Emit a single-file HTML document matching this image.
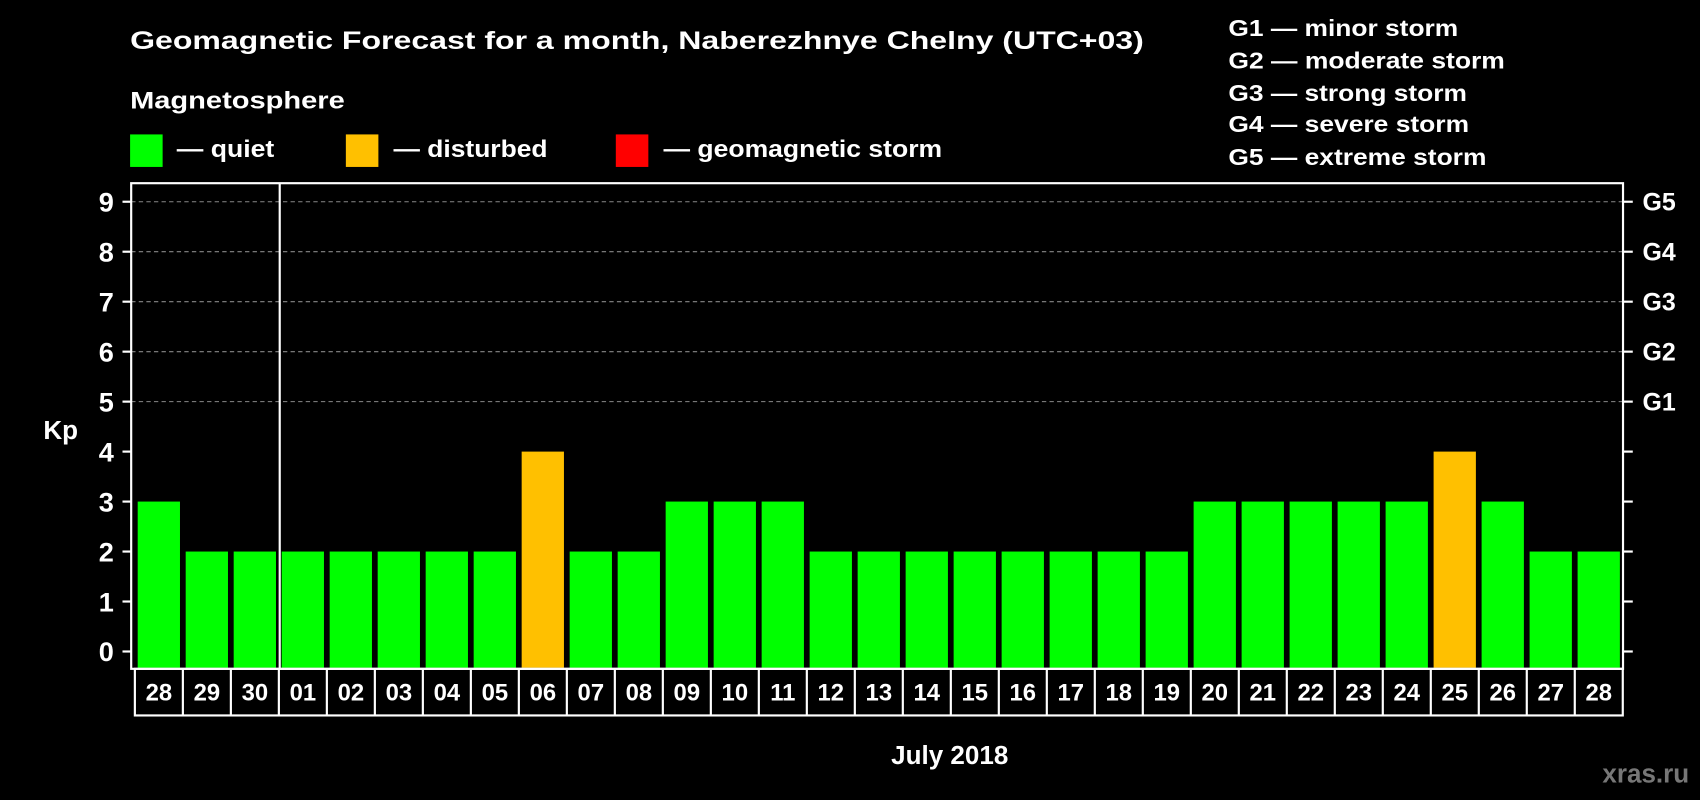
<!DOCTYPE html>
<html><head><meta charset="utf-8"><style>
html,body{margin:0;padding:0;background:#000;}
svg{display:block;font-family:"Liberation Sans",Arial,sans-serif;font-weight:bold;}
</style></head><body>
<svg id="chart" width="1700" height="800" viewBox="0 0 1568 738" preserveAspectRatio="none" xmlns="http://www.w3.org/2000/svg">
<rect x="0" y="0" width="1568" height="738" fill="#000"/>
<text x="120" y="45" font-size="23" fill="#fff" textLength="935" lengthAdjust="spacingAndGlyphs">Geomagnetic Forecast for a month, Naberezhnye Chelny (UTC+03)</text>
<text x="120" y="100" font-size="22" fill="#fff" textLength="198" lengthAdjust="spacingAndGlyphs">Magnetosphere</text>
<g>
<rect x="120" y="124" width="30" height="30" fill="#00ff00"/>
<text x="163" y="145" font-size="22" fill="#fff" textLength="90" lengthAdjust="spacingAndGlyphs">— quiet</text></g>
<g>
<rect x="319" y="124" width="30" height="30" fill="#ffc000"/>
<text x="363" y="145" font-size="22" fill="#fff" textLength="142" lengthAdjust="spacingAndGlyphs">— disturbed</text></g>
<g>
<rect x="568" y="124" width="30" height="30" fill="#ff0000"/>
<text x="612" y="145" font-size="22" fill="#fff" textLength="257" lengthAdjust="spacingAndGlyphs">— geomagnetic storm</text></g>
<g font-size="21" fill="#fff">
<text x="1133" y="33" textLength="212" lengthAdjust="spacingAndGlyphs">G1 — minor storm</text>
<text x="1133" y="63" textLength="255" lengthAdjust="spacingAndGlyphs">G2 — moderate storm</text>
<text x="1133" y="93" textLength="220" lengthAdjust="spacingAndGlyphs">G3 — strong storm</text>
<text x="1133" y="122" textLength="222" lengthAdjust="spacingAndGlyphs">G4 — severe storm</text>
<text x="1133" y="152" textLength="238" lengthAdjust="spacingAndGlyphs">G5 — extreme storm</text>
</g>
<g id="grid"></g>
<g id="bars"></g>
<rect x="121" y="169" width="1376" height="448" fill="none" stroke="#fff" stroke-width="2"/>
<line x1="258" y1="169" x2="258" y2="617" stroke="#fff" stroke-width="2"/>
<g id="axes"></g>
<text x="40" y="405" font-size="24" fill="#fff">Kp</text>
<text x="876" y="705" font-size="24" fill="#fff" text-anchor="middle">July 2018</text>
<text x="1558" y="722" font-size="24" fill="#777" text-anchor="end">xras.ru</text>
</svg>
<script>
const days = ["28","29","30","01","02","03","04","05","06","07","08","09","10","11","12","13","14","15","16","17","18","19","20","21","22","23","24","25","26","27","28"];
const kpValues = [3,2,2,2,2,2,2,2,4,2,2,3,3,3,2,2,2,2,2,2,2,2,3,3,3,3,3,4,3,2,2];
const yTicks = [0,1,2,3,4,5,6,7,8,9];
const gLabels = ["G1","G2","G3","G4","G5"];
const gLevels = [5,6,7,8,9];

const NS = "http://www.w3.org/2000/svg";
const cellX0 = 124.4, cellW = 44.27, barW = 39;
const y0 = 601, yUnit = 46.1;
function yScale(v){ return y0 - v*yUnit; }
function xCell(i){ return cellX0 + i*cellW; }
function colorFor(v){ return v>=5 ? "#ff0000" : (v>=4 ? "#ffc000" : "#00ff00"); }
function mk(tag, attrs, parent){ const e=document.createElementNS(NS,tag); for(const k in attrs) e.setAttribute(k,attrs[k]); parent.appendChild(e); return e; }

const grid=document.getElementById("grid"), bars=document.getElementById("bars"), axes=document.getElementById("axes");
gLevels.forEach((lv,i)=>{
  const l=mk("line",{x1:121,x2:1497,y1:yScale(lv),y2:yScale(lv),stroke:"#888","stroke-width":1,"stroke-dasharray":"4,3"},grid);
  
  
  const t=mk("text",{x:1515,y:yScale(lv)+8,"font-size":23,fill:"#fff"},axes);
  t.textContent=gLabels[i];
  
  
});
kpValues.forEach((v,i)=>{
  const r=mk("rect",{x:xCell(i)+2.6,y:yScale(v),width:barW,height:617-yScale(v)-1,fill:colorFor(v)},bars);
  
  
});
yTicks.forEach(v=>{
  mk("line",{x1:113,x2:121,y1:yScale(v),y2:yScale(v),stroke:"#fff","stroke-width":2},axes);
  mk("line",{x1:1497,x2:1506,y1:yScale(v),y2:yScale(v),stroke:"#fff","stroke-width":2},axes);
  const t=mk("text",{x:105,y:yScale(v)+9,"font-size":25,fill:"#fff","text-anchor":"end"},axes);
  t.textContent=v;
  
  
});
const xb=mk("rect",{x:cellX0,y:617,width:cellW*days.length,height:43,fill:"none",stroke:"#fff","stroke-width":2},axes);


days.forEach((d,i)=>{
  if(i>0){ mk("line",{x1:xCell(i),x2:xCell(i),y1:617,y2:660,stroke:"#fff","stroke-width":2},axes); }
  const t=mk("text",{x:xCell(i)+cellW/2,y:646,"font-size":22,fill:"#fff","text-anchor":"middle"},axes);
  t.textContent=d;
  
  
});
</script>
</body></html>
